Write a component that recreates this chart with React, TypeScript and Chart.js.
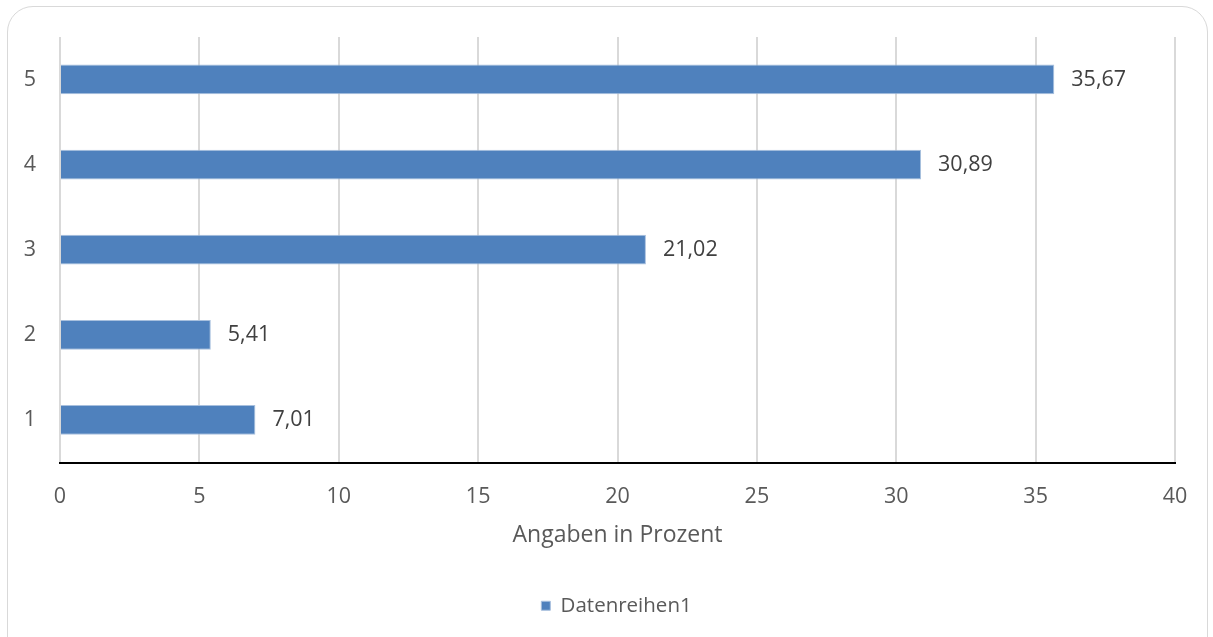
import React, { useEffect, useRef } from "react";
import { Chart, registerables } from "chart.js";

Chart.register(...registerables);

const categories = ["1", "2", "3", "4", "5"];
const seriesValues = [7.01, 5.41, 21.02, 30.89, 35.67];
const seriesName = "Datenreihen1";
const axisTitle = "Angaben in Prozent";
const xMin = 0;
const xMax = 40;
const xStep = 5;

const FONT = "'Open Sans', sans-serif";
const TEXT = "#595959";

const valueLabels = {
  id: "valueLabels",
  afterDatasetsDraw(chart: any) {
    const ctx = chart.ctx;
    const meta = chart.getDatasetMeta(0);
    const data = chart.data.datasets[0].data as number[];
    ctx.save();
    ctx.font = `21.5px ${FONT}`;
    ctx.fillStyle = "#404040";
    ctx.textAlign = "left";
    ctx.textBaseline = "middle";
    meta.data.forEach((bar: any, i: number) => {
      const txt = data[i].toFixed(2).replace(".", ",");
      ctx.fillText(txt, bar.x + 17, bar.y);
    });
    ctx.restore();
  },
};

// center the legend on the whole canvas rather than on the padded layout area
const legendShift = {
  id: "legendShift",
  beforeDraw(chart: any) {
    const lg = chart.legend;
    if (lg && !lg._shifted) {
      lg.left += 29;
      lg.right += 29;
      lg._shifted = true;
    }
  },
};

export default function App() {
  const ref = useRef<HTMLCanvasElement>(null);
  useEffect(() => {
    if (!ref.current) return;
    const chart = new Chart(ref.current, {
      type: "bar",
      data: {
        labels: categories,
        datasets: [
          {
            label: seriesName,
            data: seriesValues,
            backgroundColor: "#4F81BD",
            borderColor: "#a8c0de",
            borderWidth: 1,
            barPercentage: 0.35,
            categoryPercentage: 1,
          },
        ],
      },
      options: {
        indexAxis: "y",
        animation: false,
        responsive: false,
        maintainAspectRatio: false,
        layout: { padding: { top: 35, right: 38, left: 0, bottom: 11 } },
        scales: {
          y: {
            reverse: true,
            grid: { display: false, drawTicks: false },
            border: { display: false },
            ticks: { color: TEXT, font: { family: FONT, size: 21.5 }, padding: 24 },
            afterFit: (s: any) => {
              s.width = 60;
            },
          },
          x: {
            min: xMin,
            max: xMax,
            ticks: {
              stepSize: xStep,
              color: TEXT,
              font: { family: FONT, size: 21.5 },
              padding: 21,
            },
            grid: { color: "#d9d9d9", lineWidth: 2, drawTicks: false },
            border: { color: "#000000", width: 2 },
            title: {
              display: true,
              text: axisTitle,
              color: TEXT,
              font: { family: FONT, size: 23 },
              padding: { top: 4, bottom: 36 },
            },
            afterFit: (s: any) => {
              s.height = 123;
            },
          },
        },
        plugins: {
          legend: {
            position: "bottom",
            labels: {
              usePointStyle: true,
              pointStyle: "rect",
              boxWidth: 9,
              boxHeight: 9,
              padding: 10,
              color: TEXT,
              font: { family: FONT, size: 20.5 },
            },
          },
          tooltip: { enabled: false },
        },
      },
      plugins: [valueLabels, legendShift],
    });
    return () => chart.destroy();
  }, []);

  return (
    <div
      style={{
        position: "fixed",
        left: 0,
        top: 0,
        width: 1213,
        height: 637,
        background: "#fff",
        overflow: "hidden",
      }}
    >
      <div
        style={{
          position: "absolute",
          left: 7,
          top: 6,
          width: 1201,
          height: 700,
          border: "1.5px solid #d9d9d9",
          borderRadius: 26,
          boxSizing: "border-box",
        }}
      />
      <canvas
        ref={ref}
        width={1213}
        height={637}
        style={{ position: "absolute", left: 0, top: 0, width: 1213, height: 637 }}
      />
    </div>
  );
}
